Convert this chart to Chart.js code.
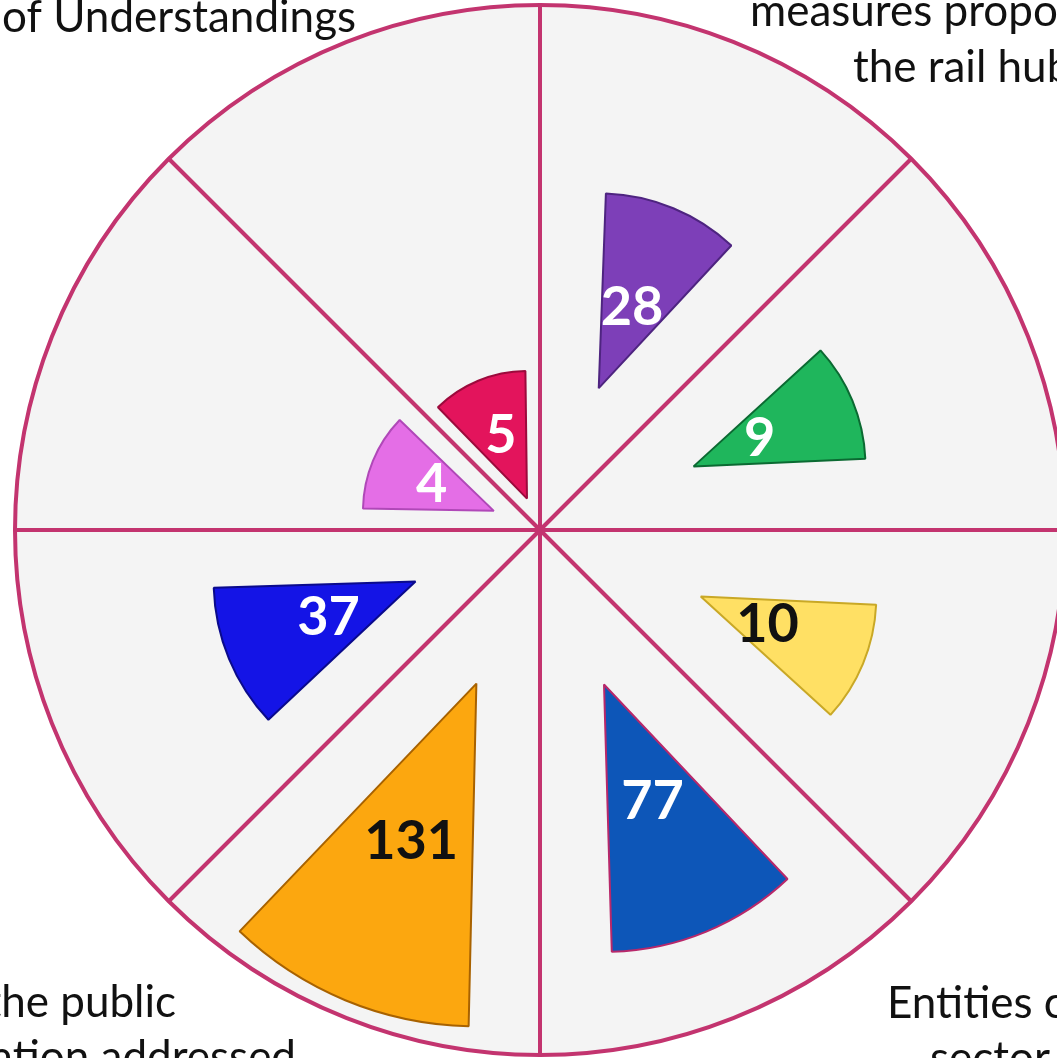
<!DOCTYPE html>
<html>
<head>
<meta charset="utf-8">
<script src="https://cdn.jsdelivr.net/npm/chart.js@4.4.1/dist/chart.umd.min.js"></script>
<style>
  html, body { margin: 0; padding: 0; background: #fff; overflow: hidden; width: 1057px; height: 1058px; }
  #wrap { position: absolute; left: 0; top: 0; width: 1080px; height: 1058px; }
</style>
</head>
<body>
<div id="wrap"><canvas id="wheel"></canvas></div>
<script>
// eight sectors, clockwise from 12 o'clock
const categories = ['measures propo… the rail hu…', '', '', 'Entities c… sector', '…the public …ation addressed', '', '', '…of Understandings'];
const counts = [28, 9, 10, 77, 131, 37, 4, 5];

// radial axis range (starting below zero so the small wedges still show)
const axisMin = -79;
const axisMax = 296;

// text fragments visible round the edge of the wheel
const cornerLines = ['of Understandings', 'measures proposed', 'the rail hub', 'the public', 'ation addressed', 'Entities c', 'sector'];

// styling
const wedgeFill = ['#7d3fb8', '#1fb65c', '#ffe064', '#0d56b8', '#fca70f', '#1414e6', '#e46ee6', '#e3145c'];
const wedgeEdge = ['#4e2480', '#0b6a32', '#c9a826', '#b8286a', '#a86200', '#0a0a8c', '#b048b8', '#9c0a3c'];
const labelColor = ['#fff', '#fff', '#111', '#fff', '#111', '#fff', '#fff', '#fff'];
const wedgeOffset = [614, 665, 696, 669, 665, 539, 200, 136];
const ringColor = '#c3346f';

// polarArea arcs have no circumference set, which makes "offset" eat into the wedge angle
const arcFix = {
    id: 'arcFix',
    afterDatasetsUpdate(chart) {
        chart.getDatasetMeta(0).data.forEach((arc) => {
            arc.circumference = arc.endAngle - arc.startAngle;
        });
    }
};

const valueLabels = {
    id: 'valueLabels',
    afterDatasetsDraw(chart) {
        const ctx = chart.ctx;
        const meta = chart.getDatasetMeta(0);
        ctx.save();
        ctx.font = 'bold 54px Lato';
        ctx.textAlign = 'center';
        ctx.textBaseline = 'middle';
        meta.data.forEach((arc, i) => {
            const mid = (arc.startAngle + arc.endAngle) / 2;
            const d = wedgeOffset[i] / 4 + arc.outerRadius * 0.58;
            ctx.fillStyle = labelColor[i];
            ctx.fillText(String(counts[i]), arc.x + Math.cos(mid) * d, arc.y + Math.sin(mid) * d);
        });
        ctx.restore();
    }
};

const cornerNotes = {
    id: 'cornerNotes',
    afterDraw(chart) {
        const ctx = chart.ctx;
        ctx.save();
        ctx.font = '44px Lato';
        ctx.fillStyle = '#111';
        ctx.textBaseline = 'alphabetic';
        ctx.textAlign = 'left';
        ctx.fillText(cornerLines[0], 2, 32);
        ctx.fillText(cornerLines[1], 750, 26);
        ctx.fillText(cornerLines[2], 853, 82);
        ctx.fillText(cornerLines[5], 887, 1018);
        ctx.fillText(cornerLines[6], 930, 1073);
        ctx.textAlign = 'right';
        ctx.fillText(cornerLines[3], 176, 1017);
        ctx.fillText(cornerLines[4], 296, 1072);
        ctx.restore();
    }
};

const config = {
    type: 'polarArea',
    data: {
        labels: categories,
        datasets: [{
            data: counts,
            backgroundColor: wedgeFill,
            borderColor: wedgeEdge,
            borderWidth: 2,
            offset: wedgeOffset,
        }]
    },
    options: {
        responsive: true,
        maintainAspectRatio: false,
        animation: false,
        events: [],
        layout: { padding: { left: 15, right: 15, top: 5, bottom: 3 } },
        plugins: {
            legend: { display: false },
            tooltip: { enabled: false },
        },
        scales: {
            r: {
                min: axisMin,
                max: axisMax,
                startAngle: 0,
                backgroundColor: '#f4f4f4',
                ticks: { display: false, stepSize: axisMax - axisMin },
                pointLabels: { display: false },
                angleLines: { display: true, color: ringColor, lineWidth: 4 },
                grid: {
                    circular: true,
                    lineWidth: 4,
                    color: (c) => c.index === 0 ? 'rgba(0,0,0,0)' : ringColor,
                },
            }
        }
    },
    plugins: [arcFix, valueLabels, cornerNotes]
};

new Chart(document.getElementById('wheel'), config);
</script>
</body>
</html>
